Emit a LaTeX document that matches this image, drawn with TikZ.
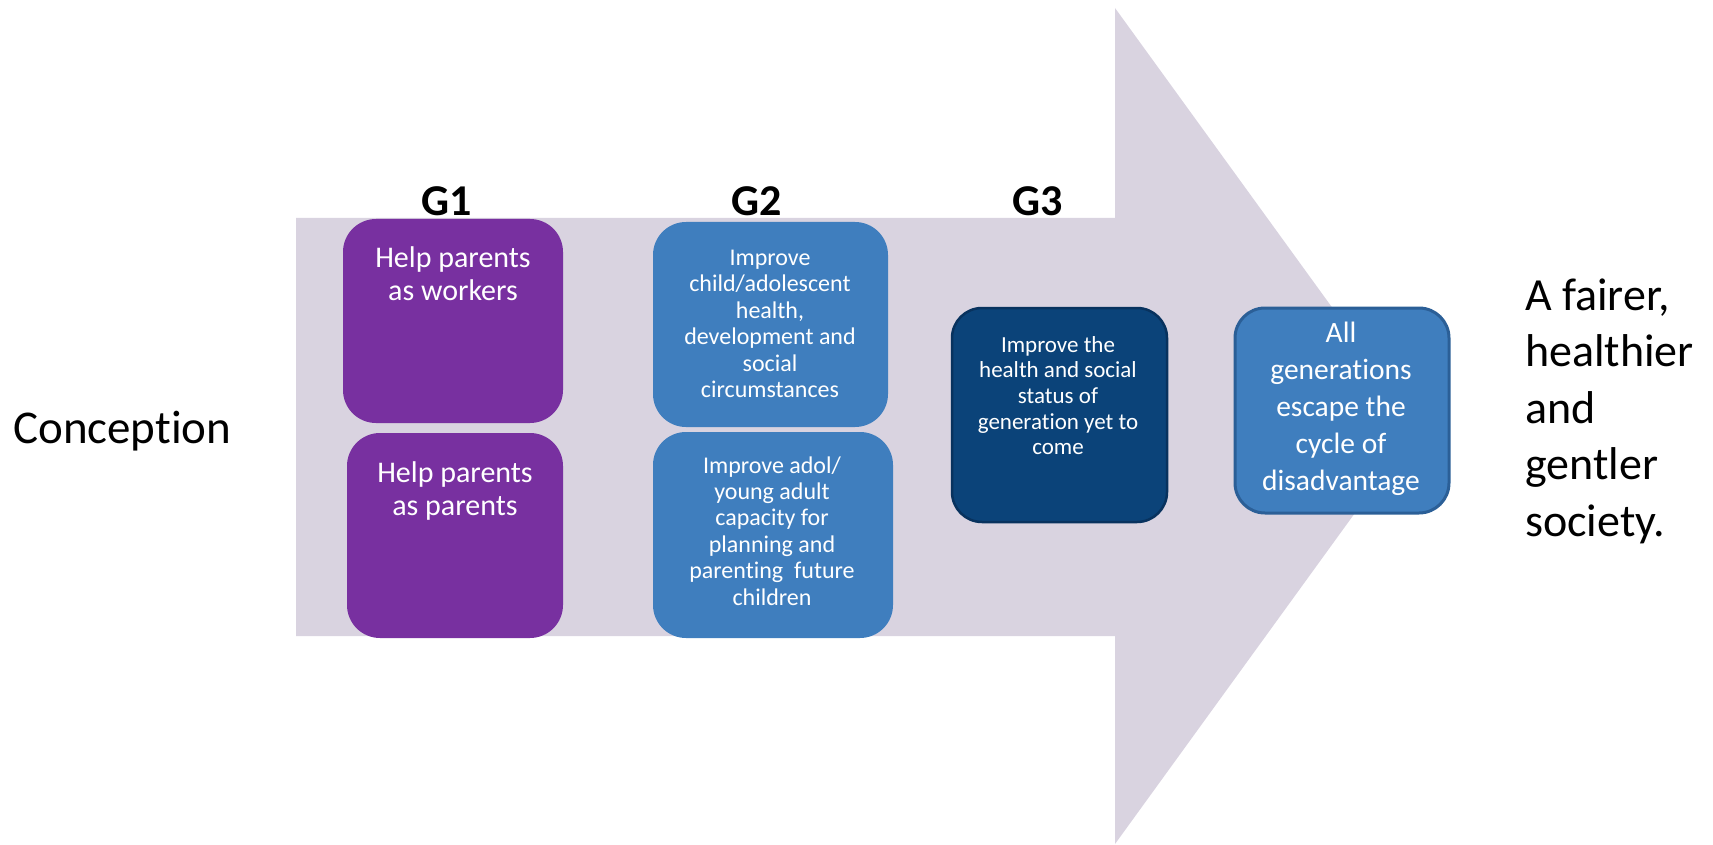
\documentclass[tikz,border=0pt]{standalone}
\usepackage{fontspec}
\setmainfont{Carlito}[Ligatures=NoCommon]
\definecolor{lav}{HTML}{D9D3E0}
\definecolor{plum}{HTML}{7830A0}
\definecolor{midblue}{HTML}{3F7EBE}
\definecolor{navy}{HTML}{0B4379}
\definecolor{navyedge}{HTML}{08325E}
\definecolor{blueedge}{HTML}{2B5F97}
\newcommand\setfs[2]{\fontsize{#1}{#2}\selectfont}
\begin{document}
\begin{tikzpicture}[x=1pt,y=-1pt,
  card/.style={draw=none, inner sep=0pt, rounded corners=#1},
  card/.default=33pt,
  purplecard/.style={card, fill=plum},
  bluecard/.style={card, fill=midblue},
  cardtext/.style={text=white, align=flush center, inner sep=0pt, anchor=base},
  gen/.style={font=\setfs{44}{50}\bfseries, inner sep=0pt, anchor=base},
  bigtext/.style={font=\setfs{46}{56.5}, inner sep=0pt, anchor=base west, align=flush left}
]
\useasboundingbox (0,0) rectangle (1713,845);

% the wide arrow behind everything
\fill[lav] (296,218) -- (1115,218) -- (1115,8) -- (1418,426)
  -- (1115,844) -- (1115,636) -- (296,636) -- cycle;

% generation headings
\node[gen] (G1) at (447,215) {G1};
\node[gen] (G2) at (757,215) {G2};
\node[gen] (G3) at (1038,215) {G3};

% first generation
\node[purplecard, minimum width=220pt, minimum height=204pt] (g1a) at (453,321) {};
\node[purplecard, minimum width=216pt, minimum height=205pt] (g1b) at (455,535.5) {};
\node[cardtext, text width=210pt, font=\setfs{30}{33}] (t1a) at (453,267) {Help parents\\as workers};
\node[cardtext, text width=210pt, font=\setfs{30}{33}] (t1b) at (455,482) {Help parents\\as parents};

% second generation
\node[bluecard=35pt, minimum width=235pt, minimum height=205pt] (g2a) at (770.5,324.5) {};
\node[bluecard=35pt, minimum width=240pt, minimum height=206pt] (g2b) at (773,535) {};
\node[cardtext, text width=225pt, font=\setfs{24}{26.6}] (t2a) at (770,265)
  {Improve\\child/adolescent\\health,\\development and\\social\\circumstances};
\node[cardtext, text width=225pt, font=\setfs{24}{26.4}] (t2b) at (772,473)
  {Improve adol/\\young adult\\capacity for\\planning and\\parenting\ \ future\\children};

% third generation
\node[card=30pt, fill=navy, draw=navyedge, line width=2.5pt,
  minimum width=215pt, minimum height=214pt] (g3) at (1059.5,415) {};
\node[cardtext, text width=205pt, font=\setfs{23}{25.7}] (t3) at (1058,352)
  {Improve the\\health and social\\status of\\generation yet to\\come};

% outcome
\node[card=30pt, fill=midblue, draw=blueedge, line width=3pt,
  minimum width=214pt, minimum height=205pt] (all) at (1342,410.5) {};
\node[cardtext, text width=205pt, font=\setfs{29.5}{37}] (tall) at (1341,342)
  {All\\generations\\escape the\\cycle of\\disadvantage};

% start and end statements
\node[bigtext, font=\setfs{47}{56}] (start) at (13,443) {Conception};
\node[bigtext, text width=185pt] (goal) at (1525,310)
  {A fairer,\\healthier\\and\\gentler\\society.};
\end{tikzpicture}
\end{document}
